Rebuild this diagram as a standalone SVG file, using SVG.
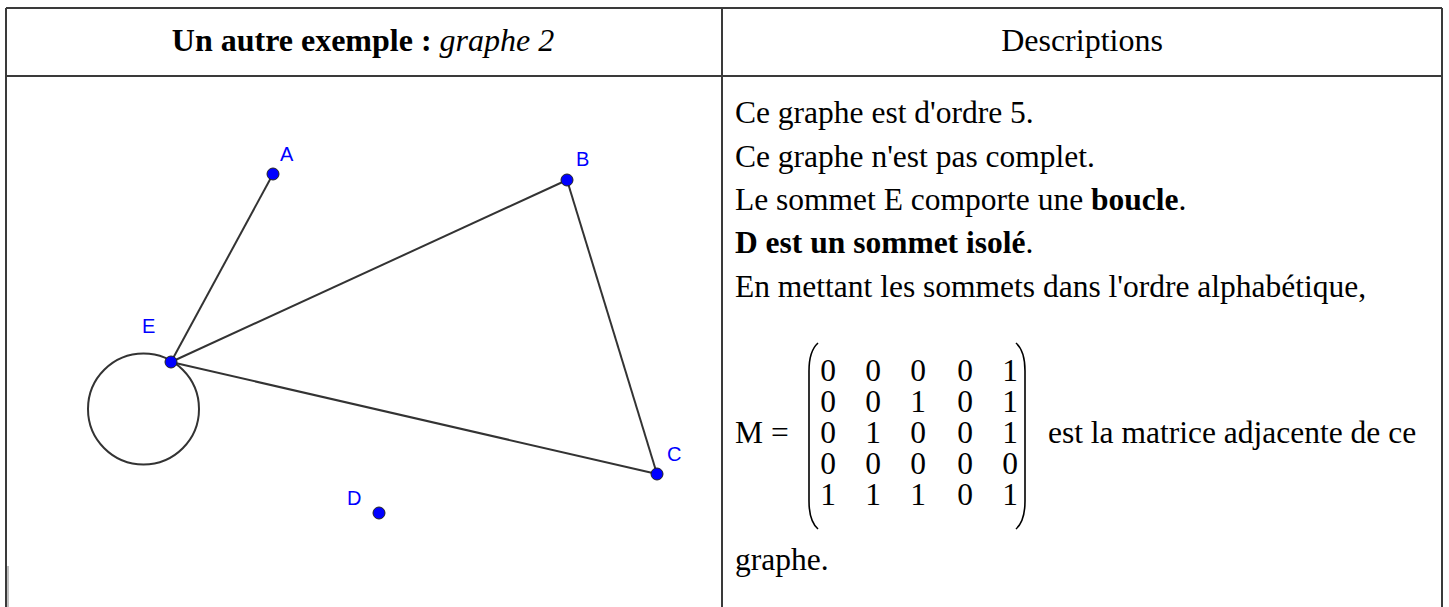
<svg xmlns="http://www.w3.org/2000/svg" width="1449" height="607" viewBox="0 0 1449 607">
<style>
.grid{stroke:#3a3a3a;stroke-width:2;fill:none}
.t{font-family:"Liberation Serif","Times New Roman",serif;font-size:31.5px;fill:#000}
.h{font-family:"Liberation Serif","Times New Roman",serif;font-size:32px;fill:#000}
.b{font-weight:bold}
.i{font-style:italic}
.edge{stroke:#333;stroke-width:2;fill:none}
.node{fill:#0000ff;stroke:#222;stroke-width:1}
.lbl{font-family:"Liberation Sans",Arial,sans-serif;font-size:20px;fill:#0000ff}
.par{stroke:#000;stroke-width:1.6;fill:none}
</style>
<rect width="1449" height="607" fill="#fff"/>
<g id="table">
<path class="grid" d="M6 8 H1442 M6 8 V607 M1442 8 V607 M6 76 H1442 M722 8 V607"/>
<path d="M8 566 V607" stroke="#aaa" stroke-width="1.5" fill="none"/>
</g>
<g id="header">
<text class="h" x="363" y="51" text-anchor="middle"><tspan class="b">Un autre exemple : </tspan><tspan class="i">graphe 2</tspan></text>
<text class="h" x="1082" y="51" text-anchor="middle">Descriptions</text>
</g>
<g id="connectors">
<circle class="edge" cx="143.5" cy="409" r="55.5"/>
<line class="edge" x1="171" y1="362" x2="273" y2="174"/>
<line class="edge" x1="171" y1="362" x2="567" y2="180"/>
<line class="edge" x1="171" y1="362" x2="657" y2="474"/>
<line class="edge" x1="567" y1="180" x2="657" y2="474"/>
</g>
<g id="node-A"><circle class="node" cx="273" cy="174" r="6"/><text class="lbl" x="280" y="161">A</text></g>
<g id="node-B"><circle class="node" cx="567" cy="180" r="6"/><text class="lbl" x="576" y="166">B</text></g>
<g id="node-C"><circle class="node" cx="657" cy="474" r="6"/><text class="lbl" x="667" y="461">C</text></g>
<g id="node-D"><circle class="node" cx="379" cy="513" r="6"/><text class="lbl" x="347" y="505">D</text></g>
<g id="node-E"><circle class="node" cx="171" cy="362" r="6"/><text class="lbl" x="142" y="333">E</text></g>
<g id="descriptions">
<text class="t" x="735" y="123">Ce graphe est d'ordre 5.</text>
<text class="t" x="735" y="167">Ce graphe n'est pas complet.</text>
<text class="t" x="735" y="210">Le sommet E comporte une <tspan class="b">boucle</tspan>.</text>
<text class="t" x="735" y="253"><tspan class="b">D est un sommet isolé</tspan>.</text>
<text class="t" x="735" y="297">En mettant les sommets dans l'ordre alphabétique,</text>
<text class="t" x="735" y="443">M =</text>
<path class="par" d="M818 343 Q809 351 809 371 V501 Q809 521 818 529"/>
<path class="par" d="M1016 343 Q1025 351 1025 371 V501 Q1025 521 1016 529"/>
<g class="t" text-anchor="middle">
<text x="828 873 918 965 1010" y="381">00001</text>
<text x="828 873 918 965 1010" y="412">00101</text>
<text x="828 873 918 965 1010" y="443">01001</text>
<text x="828 873 918 965 1010" y="474">00000</text>
<text x="828 873 918 965 1010" y="505">11101</text>
</g>
<text class="t" x="1048" y="443">est la matrice adjacente de ce</text>
<text class="t" x="735" y="570">graphe.</text>
</g>
</svg>
